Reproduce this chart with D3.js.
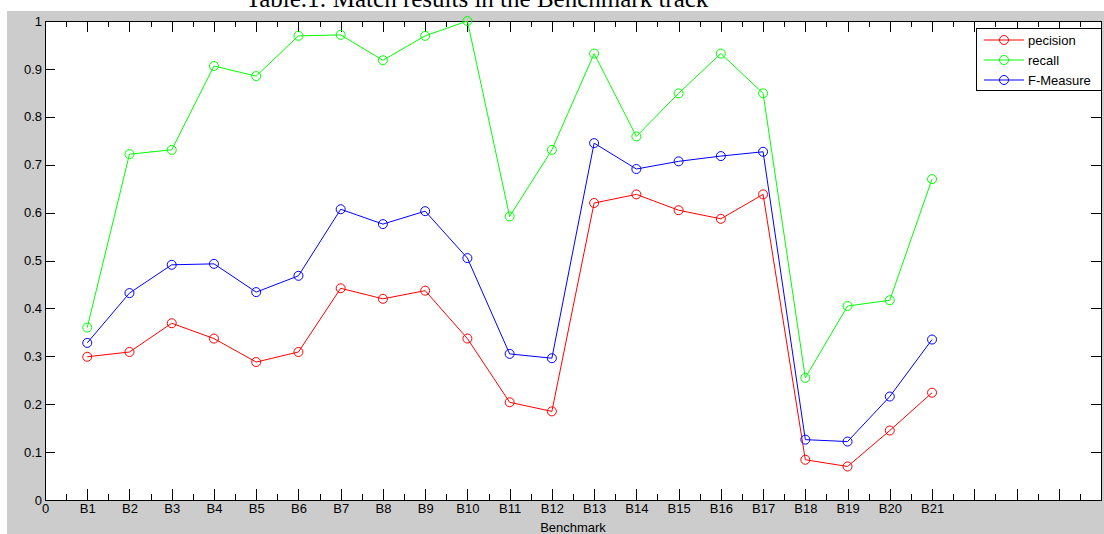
<!DOCTYPE html>
<html>
<head>
<meta charset="utf-8">
<script src="https://cdn.jsdelivr.net/npm/d3@7"></script>
<style>
  body { margin: 0; background: #fff; }
  text { font-family: "Liberation Sans", Arial, sans-serif; }
  .axis text { font-size: 13px; fill: #000; }
  .axis line, .axis path { stroke: #000; shape-rendering: crispEdges; }
</style>
</head>
<body>
<div id="chart"></div>
<script>
const benchmarks = ["B1","B2","B3","B4","B5","B6","B7","B8","B9","B10","B11","B12","B13","B14","B15","B16","B17","B18","B19","B20","B21"];
const precision = [0.299,0.309,0.369,0.337,0.288,0.309,0.442,0.420,0.437,0.337,0.204,0.185,0.620,0.638,0.605,0.587,0.638,0.084,0.070,0.145,0.224];
const recall    = [0.360,0.722,0.731,0.906,0.885,0.969,0.971,0.918,0.969,1.000,0.592,0.731,0.932,0.759,0.849,0.932,0.849,0.255,0.405,0.417,0.670];
const fmeasure  = [0.328,0.432,0.491,0.493,0.434,0.468,0.607,0.576,0.603,0.505,0.305,0.296,0.745,0.691,0.707,0.718,0.727,0.126,0.122,0.216,0.335];
const xTickLabels = ["0"].concat(benchmarks, ["","","",""]);
const series = [
  {name: "pecision", values: precision, color: "#ff0000"},
  {name: "recall", values: recall, color: "#00ff00"},
  {name: "F-Measure", values: fmeasure, color: "#0000ff"}
];

const W = 1104, H = 534;
const svg = d3.select("#chart").append("svg")
  .attr("width", W)
  .attr("height", H);

// figure background
svg.append("rect")
  .attr("x", 7).attr("y", 11)
  .attr("width", W - 7).attr("height", H - 11)
  .attr("fill", "#cccccc");

// title sits above the figure, partly cut by the page edge as in the source
svg.append("text")
  .attr("x", 477)
  .attr("y", 7)
  .attr("text-anchor", "middle")
  .style("font-family", "'Liberation Serif', 'Times New Roman', serif")
  .style("font-size", "25px")
  .text("Table.1: Match results in the Benchmark track");

const pLeft = 45, pRight = 1101, pTop = 21, pBottom = 500;
const x = d3.scaleLinear().domain([0, 25]).range([pLeft, pRight]);
const y = d3.scaleLinear().domain([0, 1]).range([pBottom, pTop]);

svg.append("rect")
  .attr("x", pLeft).attr("y", pTop)
  .attr("width", pRight - pLeft).attr("height", pBottom - pTop)
  .attr("fill", "#fff");

const majors = d3.range(0, 26);
const minors = d3.range(0.5, 25, 1);
const yTicks = d3.range(0, 11).map(d => d / 10);

// bottom axis
svg.append("g").attr("class", "axis")
  .attr("transform", `translate(0,${pBottom})`)
  .call(d3.axisBottom(x).tickValues(majors).tickSize(-11).tickPadding(4)
    .tickFormat(d => xTickLabels[d]));
svg.append("g").attr("class", "axis")
  .attr("transform", `translate(0,${pBottom})`)
  .call(d3.axisBottom(x).tickValues(minors).tickSize(-6).tickFormat(""))
  .select(".domain").remove();

// top axis
svg.append("g").attr("class", "axis")
  .attr("transform", `translate(0,${pTop})`)
  .call(d3.axisTop(x).tickValues(majors).tickSize(-11).tickFormat(""));
svg.append("g").attr("class", "axis")
  .attr("transform", `translate(0,${pTop})`)
  .call(d3.axisTop(x).tickValues(minors).tickSize(-6).tickFormat(""))
  .select(".domain").remove();

// left and right axes
svg.append("g").attr("class", "axis")
  .attr("transform", `translate(${pLeft},0)`)
  .call(d3.axisLeft(y).tickValues(yTicks).tickSize(-10).tickPadding(3)
    .tickFormat(d3.format("")));
svg.append("g").attr("class", "axis")
  .attr("transform", `translate(${pRight},0)`)
  .call(d3.axisRight(y).tickValues(yTicks).tickSize(-10).tickFormat(""));

svg.selectAll(".axis .domain").attr("stroke-width", 1.3);

const line = d3.line()
  .x((d, i) => x(i + 1))
  .y(d => y(d));

series.forEach(s => {
  svg.append("path")
    .datum(s.values)
    .attr("d", line)
    .attr("fill", "none")
    .attr("stroke", s.color)
    .attr("stroke-width", 1);
  svg.append("g").selectAll("circle")
    .data(s.values)
    .enter().append("circle")
    .attr("cx", (d, i) => x(i + 1))
    .attr("cy", d => y(d))
    .attr("r", 4.5)
    .attr("fill", "none")
    .attr("stroke", s.color)
    .attr("stroke-width", 1);
});

// x label
svg.append("text")
  .attr("x", (pLeft + pRight) / 2)
  .attr("y", 532)
  .attr("text-anchor", "middle")
  .style("font-size", "13px")
  .text("Benchmark");

// legend
const legend = svg.append("g").attr("transform", "translate(976,28)");
legend.append("rect")
  .attr("width", 125).attr("height", 62)
  .attr("fill", "#fff")
  .attr("stroke", "#000")
  .attr("stroke-width", 1)
  .attr("shape-rendering", "crispEdges");
series.forEach((s, i) => {
  const ly = 12 + i * 20;
  legend.append("line")
    .attr("x1", 8).attr("x2", 48)
    .attr("y1", ly).attr("y2", ly)
    .attr("stroke", s.color);
  legend.append("circle")
    .attr("cx", 28).attr("cy", ly).attr("r", 4.5)
    .attr("fill", "none").attr("stroke", s.color);
  legend.append("text")
    .attr("x", 52).attr("y", ly + 4.5)
    .style("font-size", "13px")
    .text(s.name);
});
</script>
</body>
</html>
